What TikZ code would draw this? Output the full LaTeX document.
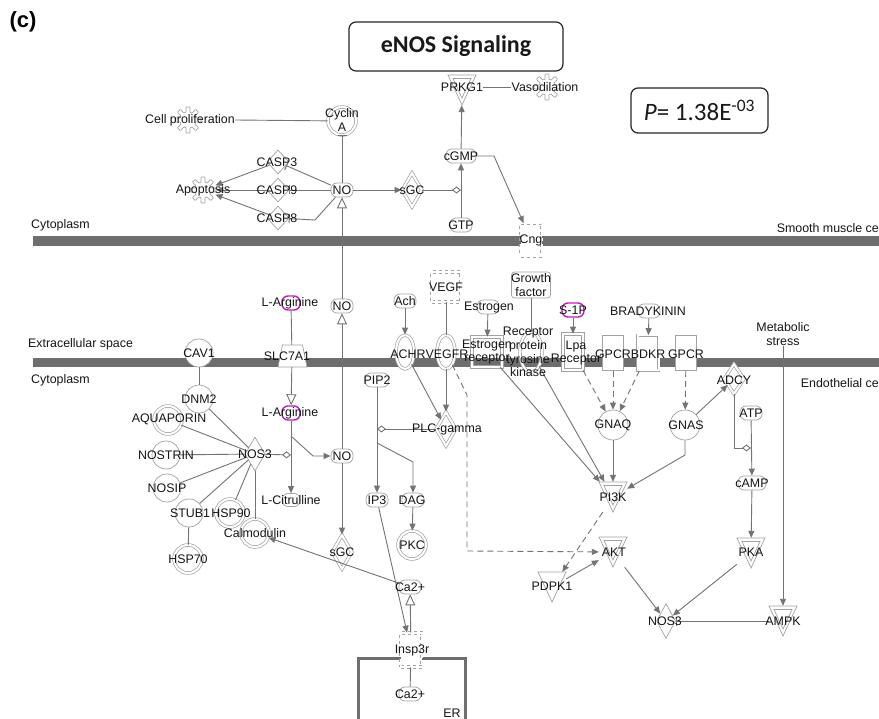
\documentclass[tikz,border=0pt]{standalone}
\usepackage{fontspec}
\setmainfont{Liberation Sans}
\newfontfamily\calib{Carlito}
\usetikzlibrary{shapes.geometric, arrows.meta}
\pgfdeclarelayer{bg}\pgfdeclarelayer{edges}\pgfdeclarelayer{front}
\pgfsetlayers{bg,main,edges,front}
\definecolor{lc}{HTML}{737373}
\definecolor{sc}{HTML}{A2A2A2}
\definecolor{mc}{HTML}{6E6E6E}
\definecolor{tc}{HTML}{151515}
\definecolor{mag}{HTML}{C21BC2}
\tikzset{
 lbl/.style={font=\fontsize{12.4}{13.7}\selectfont, text=tc, inner sep=0pt, align=center},
 sh/.style={draw=sc, line width=0.7pt, fill=white, inner sep=0pt},
 chem/.style={sh, rectangle, rounded corners=6pt, minimum width=22pt, minimum height=14pt},
 magchem/.style={chem, draw=mag, line width=1.4pt, minimum width=18pt},
 circ/.style={sh, circle, minimum size=28pt},
 dbl/.style={double=white, double distance=2pt},
 dcirc/.style={circ, dbl},
 dia/.style={sh, diamond, minimum width=20pt, minimum height=34pt},
 ddia/.style={dia, dbl},
 smalldia/.style={sh, diamond, minimum width=22pt, minimum height=24pt},
 rec/.style={sh, rectangle, minimum width=21pt, minimum height=35pt},
 drec/.style={rec, dbl},
 ell/.style={sh, ellipse, minimum width=18pt, minimum height=34pt, dbl},
 chan/.style={sh, rectangle, dashed, dbl, minimum width=21pt, minimum height=33pt},
 conn/.style={draw=lc, line width=0.9pt},
 act/.style={conn, -{Triangle[length=7pt,width=6pt]}},
 trans/.style={conn, -{Triangle[length=11pt,width=10pt,fill=white]}},
 inh/.style={conn, -{Bar[width=9pt,line width=1pt]}},
 cat/.style={conn, -{Diamond[length=9pt,width=7pt,fill=white]}},
 dsh/.style={dash pattern=on 6pt off 4pt},
 gearline/.style={draw=sc, line width=0.7pt},
 membrane/.style={fill=mc, draw=none},
 boxtitle/.style={draw=black!85, line width=1.2pt, rounded corners=7pt, text=black!90},
}
\newcommand\kinnode[4]{%
 \node[inner sep=0pt, minimum width=28pt, minimum height=30pt] (#1) at (#2,#3) {};
 \draw[sh] ({#2-14},{#3-15}) -- ({#2+14},{#3-15}) -- ({#2},{#3+15}) -- cycle;
 \ifnum#4=1 \draw[draw=sc, line width=0.7pt] ({#2-9},{#3-11.5}) -- ({#2+9},{#3-11.5}) -- ({#2},{#3+8}) -- cycle;\fi
}
\newcommand\gearnode[3]{%
 \node[inner sep=0pt, circle, minimum size=26pt] (#1) at (#2,#3) {};
 \draw[gearline, shift={(#2,#3)}] plot[domain=0:360, samples=161] ({(10.5+2.5*max(-1,min(1,2.5*cos(8*\x))))*cos(\x)}, {(10.5+2.5*max(-1,min(1,2.5*cos(8*\x))))*sin(\x)}) -- cycle;
}
\begin{document}
\begin{tikzpicture}[x=1pt,y=-1pt]
\useasboundingbox (0,0) rectangle (879,719);
\begin{pgfonlayer}{bg}
\fill[white] (0,0) rectangle (879,719);
\fill[membrane] (33,236) rectangle (879,246);
\fill[membrane] (33,358) rectangle (879,367);
\draw[line width=3pt, draw=mc] (358,719) -- (358,658) -- (465,658) -- (465,719);
\end{pgfonlayer}

% ---------- shapes ----------
\gearnode{cellp}{188}{120}
\node[dcirc] (cyca) at (342,121) {};
\node[smalldia] (casp3) at (278,162) {};
\node[smalldia] (casp9) at (278,190) {};
\node[smalldia] (casp8) at (278,218) {};
\gearnode{apop}{203}{190}
\node[chem] (noT) at (342,190) {};
\node[ddia] (sgcT) at (412,190) {};
\node[chem] (gtp) at (461,225) {};
\node[chem, minimum width=30pt] (cgmp) at (461,156) {};
\kinnode{prkg}{462}{90}{1}
\gearnode{vaso}{547}{87}
\node[chan] (cng) at (531,240) {};

\node[magchem] (larg1) at (291,303) {};
\node[inner sep=0pt, minimum width=29pt, minimum height=22pt] (slc) at (292,356) {};
\draw[sh] (282.5,345) -- (302.5,345) -- (307,367) -- (278,367) -- cycle;
\node[chem] (noM) at (342,306) {};
\node[magchem] (larg2) at (291,413) {};
\node[chem, minimum width=18pt, minimum height=13pt] (lcit) at (291,500) {};
\node[chem] (noL) at (342,456) {};
\node[ddia] (sgcL) at (342,552) {};
\node[circ] (cav1) at (199,353) {};
\node[circ] (dnm2) at (199,399) {};
\node[dcirc] (aqua) at (168,420) {};
\node[circ] (nostrin) at (166,455) {};
\node[circ] (nosip) at (167,488) {};
\node[circ] (stub1) at (189,513) {};
\node[dcirc] (hsp90) at (230,513) {};
\node[dcirc] (hsp70) at (188,559) {};
\node[dcirc] (calm) at (255,533) {};
\node[dia] (nos3a) at (255,454) {};
\node[chem, minimum width=24pt] (pip2) at (377,380) {};
\node[chem] (ip3) at (377,500) {};
\node[chem] (dag) at (413,500) {};
\node[dcirc] (pkc) at (412,545) {};
\node[ddia] (plc) at (446,429) {};
\node[chem] (ca2) at (410,587) {};
\node[chan, minimum width=21pt, minimum height=34pt] (insp) at (411,650) {};
\node[chem] (ca2er) at (410,694) {};
\node[chem] (ach) at (405,301) {};
\node[ell] (achr) at (405,352) {};
\node[ell] (vegfr) at (446,352) {};
\node[chan, minimum width=29pt, minimum height=30pt] (vegf) at (446,287) {};
\node[chem] (estrogen) at (488,307) {};
\node[sh, fill=none, rectangle, dbl, minimum width=30pt, minimum height=30pt] (estr) at (487,352) {};
\node[sh, rounded corners=3pt, minimum width=39pt, minimum height=26pt] (growth) at (531,285) {};
\node[ell, fill=none, minimum width=22pt, minimum height=40pt] (rptk) at (531,352) {};
\node[magchem, minimum width=22pt] (s1p) at (573,310) {};
\node[drec, minimum width=20pt, minimum height=36pt] (lpa) at (573,352) {};
\node[rec] (gpcr1) at (613,353) {};
\node[drec] (bdkr) at (648,353) {};
\node[rec] (gpcr2) at (686,353) {};
\node[chem] (brady) at (649,311) {};
\node[circ, minimum size=30pt] (gnaq) at (613,425) {};
\node[circ, minimum size=30pt] (gnas) at (685,425) {};
\node[ddia, minimum width=20pt, minimum height=30pt] (adcy) at (734,379) {};
\node[chem] (atp) at (751,413) {};
\node[chem, minimum width=28pt] (camp) at (752,483) {};
\kinnode{pka}{751}{553}{1}
\kinnode{ampk}{783}{621}{1}
\kinnode{akt}{613}{552}{1}
\kinnode{pi3k}{613}{497}{1}
\kinnode{pdpk}{552}{587}{0}
\node[dia, minimum width=19pt, minimum height=35pt] (nos3b) at (666,621) {};

\coordinate (c8) at (315,220);
\coordinate (k1) at (494,156);
\coordinate (catA) at (461,190);
\coordinate (b1) at (291,436);
\coordinate (b1b) at (313,456);
\coordinate (catB) at (291,455);
\coordinate (b2) at (377,443);
\coordinate (b2b) at (413,462);
\coordinate (catC) at (377,429);
\coordinate (v1) at (467,395);
\coordinate (v2) at (467,551);
\coordinate (g1) at (685,455);
\coordinate (a1) at (734,448);
\coordinate (catD) at (751,448);

% ---------- labels ----------
\begin{pgfonlayer}{front}
\node[boxtitle, minimum width=214pt, minimum height=49pt, font=\calib\bfseries\fontsize{24}{28}\selectfont] (title) at (456,46.5) {eNOS Signaling};
\node[boxtitle, minimum width=137pt, minimum height=45pt, font=\calib\fontsize{25}{28}\selectfont] (pval) at (699.5,110.5) {\textit{P}= 1.38E\textsuperscript{-03}};
\node[font=\bfseries\fontsize{22}{24}\selectfont, inner sep=0pt] (panel) at (23,22) {(c)};
\node[lbl, anchor=west] (cytoL1) at (31,225) {Cytoplasm};
\node[lbl, anchor=east] (smcL) at (879,228) {Smooth muscle ce};
\node[lbl, anchor=west] (ecsL) at (28,344) {Extracellular space};
\node[lbl, anchor=west] (cytoL2) at (31,380) {Cytoplasm};
\node[lbl, anchor=east] (endoL) at (879,383) {Endothelial ce};
\node[lbl] (erL) at (452,713) {ER};
\node[lbl] (cellpL) at (190,120) {Cell proliferation};
\node[lbl] (cycaL) at (342,120) {Cyclin\\A};
\node[lbl] (casp3L) at (277,162) {CASP3};
\node[lbl] (casp9L) at (277,190) {CASP9};
\node[lbl] (casp8L) at (277,218) {CASP8};
\node[lbl] (apopL) at (203,190) {Apoptosis};
\node[lbl] (noTL) at (342,190) {NO};
\node[lbl] (sgcTL) at (412,190) {sGC};
\node[lbl] (gtpL) at (461,225) {GTP};
\node[lbl] (cgmpL) at (461,156) {cGMP};
\node[lbl] (prkgL) at (462,87) {PRKG1};
\node[lbl] (vasoL) at (545,87) {Vasodilation};
\node[lbl] (cngL) at (531,240) {Cng};
\node[lbl] (larg1L) at (290,303) {L-Arginine};
\node[lbl] (slcL) at (287,356) {SLC7A1};
\node[lbl] (noML) at (342,306) {NO};
\node[lbl] (larg2L) at (290,413) {L-Arginine};
\node[lbl] (lcitL) at (291,500) {L-Citrulline};
\node[lbl] (noLL) at (342,456) {NO};
\node[lbl] (sgcLL) at (342,552) {sGC};
\node[lbl] (cav1L) at (199,353) {CAV1};
\node[lbl] (dnm2L) at (199,399) {DNM2};
\node[lbl] (aquaL) at (169,419) {AQUAPORIN};
\node[lbl] (nostrinL) at (166,455) {NOSTRIN};
\node[lbl] (nosipL) at (167,488) {NOSIP};
\node[lbl] (stub1L) at (190,513) {STUB1};
\node[lbl] (hsp90L) at (231,513) {HSP90};
\node[lbl] (hsp70L) at (188,559) {HSP70};
\node[lbl] (calmL) at (255,533) {Calmodulin};
\node[lbl] (nos3aL) at (255,454) {NOS3};
\node[lbl] (pip2L) at (377,380) {PIP2};
\node[lbl] (ip3L) at (377,500) {IP3};
\node[lbl] (dagL) at (412,500) {DAG};
\node[lbl] (pkcL) at (412,545) {PKC};
\node[lbl] (plcL) at (447,429) {PLC-gamma};
\node[lbl] (ca2L) at (410,587) {Ca2+};
\node[lbl] (inspL) at (412,650) {Insp3r};
\node[lbl] (ca2erL) at (410,694) {Ca2+};
\node[lbl] (achL) at (405,301) {Ach};
\node[lbl] (achrL) at (408,354) {ACHR};
\node[lbl] (vegfrL) at (447,354) {VEGFR};
\node[lbl] (vegfL) at (446,287) {VEGF};
\node[lbl] (estrogenL) at (489,308) {Estrogen};
\node[lbl] (estrL) at (487,352) {Estrogen\\receptor};
\node[lbl] (growthL) at (531,285) {Growth\\factor};
\node[lbl] (rptkL) at (528,352) {Receptor\\protein\\tyrosine\\kinase};
\node[lbl] (s1pL) at (573,310) {S-1P};
\node[lbl] (lpaL) at (576,353) {Lpa\\Receptor};
\node[lbl] (gpcr1L) at (613,354) {GPCR};
\node[lbl] (bdkrL) at (648,354) {BDKR};
\node[lbl] (gpcr2L) at (686,354) {GPCR};
\node[lbl] (bradyL) at (648,311) {BRADYKININ};
\node[lbl] (gnaqL) at (613,425) {GNAQ};
\node[lbl] (gnasL) at (686,425) {GNAS};
\node[lbl] (adcyL) at (734,380) {ADCY};
\node[lbl] (atpL) at (751,413) {ATP};
\node[lbl] (campL) at (752,483) {cAMP};
\node[lbl] (msL) at (783,334) {Metabolic\\stress};
\node[lbl] (pkaL) at (751,552) {PKA};
\node[lbl] (ampkL) at (783,621) {AMPK};
\node[lbl] (aktL) at (614,552) {AKT};
\node[lbl] (pi3kL) at (613,497) {PI3K};
\node[lbl] (pdpkL) at (552,586) {PDPK1};
\node[lbl] (nos3bL) at (665,621) {NOS3};
\end{pgfonlayer}

% ---------- connectors ----------
\begin{pgfonlayer}{edges}
\draw[conn] (cellpL.east) -- (cyca);
\draw[inh] (noT) -- (cyca);
\draw[inh] (noT) -- (casp3);
\draw[inh] (noT) -- (casp9);
\draw[inh] (noT) -- (c8) -- (casp8);
\draw[act] (casp3) -- (apop);
\draw[act] (casp9) -- (apop);
\draw[act] (casp8) -- (apop);
\draw[act] (noT) -- (sgcT);
\draw[cat] (sgcT) -- (catA);
\draw[act] (gtp) -- (cgmp);
\draw[act] (cgmp) -- (prkg);
\draw[conn] (prkgL.east) -- (vasoL.west);
\draw[act] (cgmp.east) -- (k1) -- (cng);
\draw[trans] (noM) -- (noT);
\draw[trans] (noL) -- (noM);
\draw[act] (noL) -- (sgcL);
\draw[conn] (larg1) -- (slc);
\draw[trans] (slc) -- (larg2);
\draw[act] (larg2) -- (lcit);
\draw[act] (b1) -- (b1b) -- (noL);
\draw[cat] (nos3a) -- (catB);
\draw[conn] (cav1) -- (dnm2);
\draw[conn] (dnm2) -- (nos3a);
\draw[conn] (aqua) -- (nos3a);
\draw[conn] (nostrin) -- (nos3a);
\draw[conn] (nosip) -- (nos3a);
\draw[conn] (stub1) -- (nos3a);
\draw[conn] (hsp90) -- (nos3a);
\draw[conn] (nos3a) -- (calm);
\draw[conn] (stub1) -- (hsp70);
\draw[act] (ca2) -- (calm);
\draw[trans] (insp) -- (ca2);
\draw[act] (ip3) -- (insp);
\draw[conn] (insp) -- (ca2er);
\draw[act] (pip2) -- (ip3);
\draw[act] (b2) -- (b2b) -- (dag);
\draw[cat] (plc) -- (catC);
\draw[act] (dag) -- (pkc);
\draw[act] (ach) -- (achr);
\draw[conn] (vegf) -- (vegfr);
\draw[act] (vegfr) -- (plc);
\draw[act] (achr) -- (plc);
\draw[act, dsh] (vegfr) -- (v1) -- (v2) -- (akt);
\draw[act] (estrogen) -- (estr);
\draw[conn] (growth) -- (rptk);
\draw[act] (s1p) -- (lpa);
\draw[act] (brady) -- (bdkr);
\draw[act, dsh] (lpa) -- (gnaq);
\draw[act, dsh] (gpcr1) -- (gnaq);
\draw[act, dsh] (bdkr) -- (gnaq);
\draw[act, dsh] (gpcr2) -- (gnas);
\draw[act] (estr) -- (pi3k);
\draw[act] (rptk) -- (pi3k);
\draw[act] (gnaq) -- (pi3k);
\draw[act] (gnas) -- (g1) -- (pi3k);
\draw[act] (gnas) -- (adcy);
\draw[cat] (adcy) -- (a1) -- (catD);
\draw[act] (atp) -- (camp);
\draw[act] (msL) -- (ampk);
\draw[act] (camp) -- (pka);
\draw[act] (pka) -- (nos3b);
\draw[act] (akt) -- (nos3b);
\draw[inh] (ampk) -- (nos3b);
\draw[act, dsh] (pi3k) -- (pdpk);
\draw[act] (pdpk) -- (akt);
\end{pgfonlayer}
\end{tikzpicture}
\end{document}
